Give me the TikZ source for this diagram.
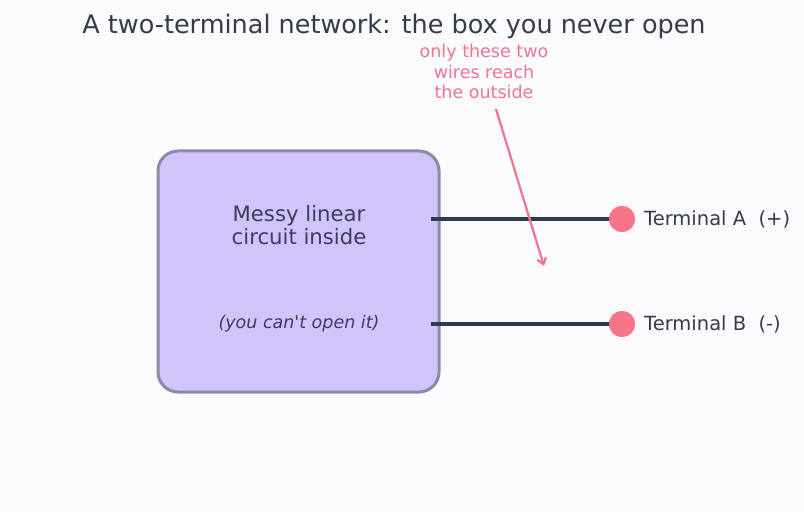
\documentclass[tikz,border=0pt]{standalone}
\usepackage{fontspec}
\setmainfont{DejaVu Sans}
\usetikzlibrary{arrows.meta}
\definecolor{bg}{HTML}{FBFBFD}
\definecolor{boxfill}{HTML}{D0C4FB}
\definecolor{boxline}{HTML}{8E88A8}
\definecolor{wire}{HTML}{2F3A4C}
\definecolor{pink}{HTML}{F87487}
\definecolor{txt}{HTML}{353B48}
\definecolor{inner}{HTML}{3F3A5E}
\definecolor{note}{HTML}{F07490}
\tikzset{
  wireline/.style={draw=wire, line width=4bp},
  termdot/.style={circle, fill=pink, minimum size=26bp, inner sep=0pt},
  termlabel/.style={anchor=west, text=txt, font=\fontsize{19.5bp}{22bp}\selectfont, inner sep=0pt},
}
\begin{document}
\begin{tikzpicture}[x=1bp, y=-1bp]
\fill[bg] (0,0) rectangle (804,512);
\useasboundingbox (0,0) rectangle (804,512);
\node[text=txt, font=\fontsize{25.5bp}{28bp}\selectfont] (title) at (394,26) {A two-terminal network: the box you never open};
\draw[draw=boxline, fill=boxfill, line width=3bp, rounded corners=20bp] (158,151) rectangle (439,392);
\node (box) at (298.5,271.5) {};
\node[align=center, text=inner, font=\fontsize{21.2bp}{23bp}\selectfont] (msg) at (299,225) {Messy linear\\circuit inside};
\node[text=inner, font=\fontsize{17.5bp}{20bp}\itshape] (cant) at (299,324) {(you can\textquotesingle t open it)};
\coordinate (wa) at (431,219);
\coordinate (wb) at (431,324);
\node[termdot] (ta) at (622,219) {};
\node[termdot] (tb) at (622,324) {};
\draw[wireline] (wa) -- (ta.center);
\draw[wireline] (wb) -- (tb.center);
\node[termdot] at (622,219) {};
\node[termdot] at (622,324) {};
\node[termlabel] (la) at (644,219) {Terminal A\ \ (+)};
\node[termlabel] (lb) at (644,324) {Terminal B\ \ (-)};
\node[align=center, text=note, font=\fontsize{17.5bp}{20.5bp}\selectfont] (ann) at (484,71.5) {only these two\\wires reach\\the outside};
\coordinate (as) at (496,109);
\coordinate (ae) at (544,266);
\draw[draw=note, line width=2.2bp, -{Straight Barb[length=6bp,width=9bp]}] (as) -- (ae);
\end{tikzpicture}
\end{document}
